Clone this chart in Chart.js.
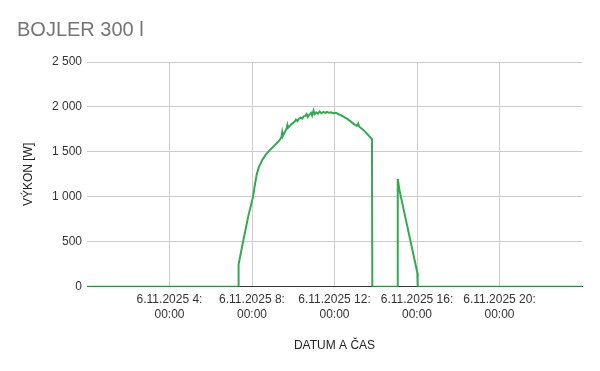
<!DOCTYPE html>
<html>
<head>
<meta charset="utf-8">
<script src="https://cdn.jsdelivr.net/npm/chart.js@4"></script>
<style>
    body { margin: 0; background: #fff; }
    #wrap { width: 600px; height: 371px; position: relative; }
</style>
</head>
<body>
<div id="wrap"><canvas id="Bojler"></canvas></div>
<script>
// time of day (6.11.2025) and measured power in W
var times = [
    "0:00", "7:20", "7:21", "7:35", "7:50", "8:03", "8:09", "8:14", "8:20", "8:29",
    "8:40", "8:53", "9:05", "9:17", "9:22", "9:26", "9:28", "9:30", "9:35", "9:41",
    "9:43", "9:45", "9:50", "9:55", "10:00", "10:05", "10:08", "10:12", "10:17", "10:22",
    "10:26", "10:30", "10:35", "10:39", "10:42", "10:47", "10:52", "10:55", "10:59", "11:02",
    "11:07", "11:12", "11:17", "11:22", "11:28", "11:33", "11:38", "11:44", "11:50", "11:56",
    "12:02", "12:07", "12:14", "12:20", "12:27", "12:36", "12:45", "12:55", "13:00", "13:05",
    "13:09", "13:12", "13:24", "13:35", "13:49", "13:50", "15:03", "15:04", "15:09", "16:01",
    "16:02", "24:00"
];
var watts = [
    0, 0, 250, 520, 800, 1000, 1150, 1255, 1330, 1405,
    1470, 1525, 1570, 1615, 1640, 1670, 1720, 1680, 1715, 1765,
    1800, 1770, 1790, 1810, 1825, 1840, 1860, 1845, 1870, 1880,
    1870, 1895, 1900, 1920, 1890, 1915, 1935, 1905, 1960, 1920,
    1940, 1925, 1950, 1930, 1945, 1935, 1945, 1935, 1940, 1930,
    1935, 1930, 1915, 1905, 1890, 1870, 1845, 1815, 1800, 1790,
    1815, 1780, 1745, 1700, 1641, 0, 0, 1200, 1075, 157,
    0, 0
];
var xTickHours = [4, 8, 12, 16, 20];
var yTicks = [0, 500, 1000, 1500, 2000, 2500];
var datePrefix = "6.11.2025";

function toMinutes(t) {
    var p = t.split(":");
    return parseInt(p[0], 10) * 60 + parseInt(p[1], 10);
}

function fmtThousands(v) {
    return String(v).replace(/\B(?=(\d{3})+(?!\d))/g, " ");
}

Chart.defaults.font.family = "'Liberation Sans', Arial, sans-serif";
Chart.defaults.font.size = 12;

var points = times.map(function (t, i) {
    return { x: toMinutes(t), y: watts[i] };
});

var ctx = document.getElementById("Bojler").getContext("2d");
var Bojler = new Chart(ctx, {
    type: "line",
    data: {
        datasets: [
            {
                data: points,
                borderColor: "#34a853",
                backgroundColor: "#34a853",
                borderWidth: 2,
                tension: 0,
                pointRadius: 0,
                fill: false,
            },
        ],
    },
    options: {
        responsive: true,
        maintainAspectRatio: false,
        animation: false,
        layout: {
            padding: { left: 17, right: 18, top: 0, bottom: 14 },
        },
        scales: {
            x: {
                type: "linear",
                min: 0,
                max: 1440,
                afterBuildTicks: function (scale) {
                    scale.ticks = [0].concat(xTickHours.map(function (h) {
                        return h * 60;
                    }), [1440]).map(function (v) {
                        return { value: v };
                    });
                },
                grid: {
                    drawTicks: false,
                    color: function (c) {
                        var v = c.tick ? c.tick.value : 0;
                        return v === 0 || v === 1440 ? "rgba(0,0,0,0)" : "#cccccc";
                    },
                },
                border: { display: true, color: "#333333", width: 1 },
                ticks: {
                    padding: 6,
                    color: "#333333",
                    maxRotation: 0,
                    autoSkip: false,
                    callback: function (value) {
                        if (value === 0 || value === 1440) return "";
                        return [datePrefix + " " + value / 60 + ":", "00:00"];
                    },
                },
                title: {
                    display: true,
                    text: "DATUM A ČAS",
                    color: "#222222",
                    padding: { top: 11, bottom: 4 },
                },
            },
            y: {
                min: 0,
                max: 2500,
                afterBuildTicks: function (scale) {
                    scale.ticks = yTicks.map(function (v) {
                        return { value: v };
                    });
                },
                afterFit: function (scale) {
                    scale.width = 70;
                },
                grid: { drawTicks: false, color: "#cccccc" },
                border: { display: false },
                ticks: {
                    padding: 5,
                    color: "#333333",
                    callback: function (value) {
                        return fmtThousands(value);
                    },
                },
                title: {
                    display: true,
                    text: "VÝKON [W]",
                    color: "#222222",
                    padding: { top: 4, bottom: 4 },
                },
            },
        },
        plugins: {
            legend: { display: false },
            tooltip: { enabled: false },
            title: {
                display: true,
                text: "BOJLER 300 l",
                align: "start",
                color: "#757575",
                font: { size: 20, weight: "normal" },
                padding: { top: 18, bottom: 20 },
            },
        },
    },
});
</script>
</body>
</html>
